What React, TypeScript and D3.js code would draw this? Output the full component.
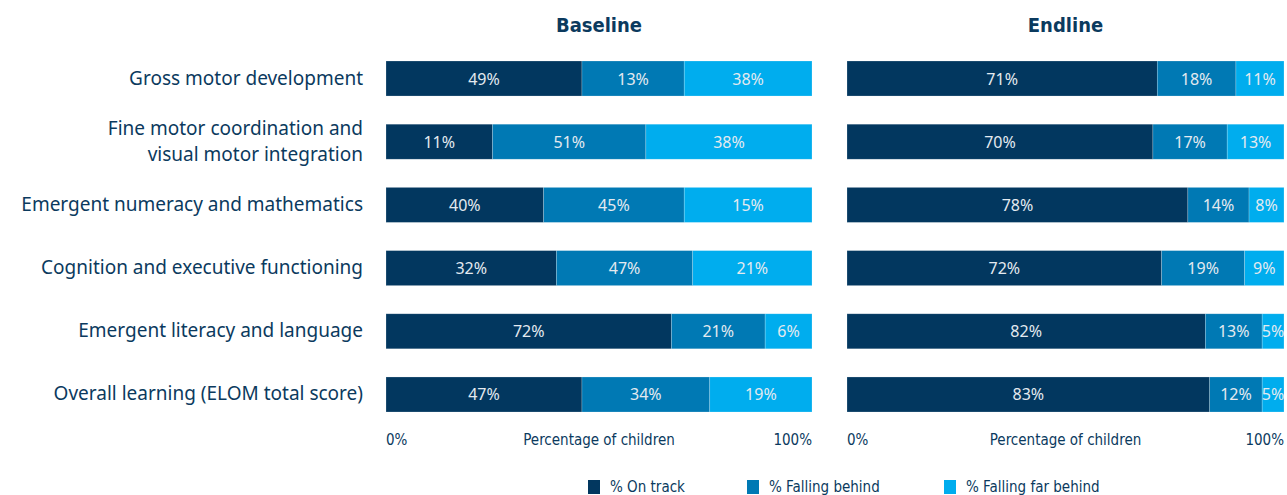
import React from "react";
import * as d3 from "d3";

const categories = [
  ["Gross motor development"],
  ["Fine motor coordination and", "visual motor integration"],
  ["Emergent numeracy and mathematics"],
  ["Cognition and executive functioning"],
  ["Emergent literacy and language"],
  ["Overall learning (ELOM total score)"],
];
const seriesNames = ["% On track", "% Falling behind", "% Falling far behind"];
const colors = ["#02375F", "#0079B4", "#00ADEE"];

// printed labels
const baselineOnTrack = [49, 11, 40, 32, 72, 47];
const baselineBehind = [13, 51, 45, 47, 21, 34];
const baselineFarBehind = [38, 38, 15, 21, 6, 19];
// segment lengths as drawn in the reference baseline panel
const baselineDrawnOnTrack = [46, 25, 37, 40, 67, 46];
const baselineDrawnBehind = [24, 36, 33, 32, 22, 30];
const baselineDrawnFarBehind = [30, 39, 30, 28, 11, 24];

const endlineOnTrack = [71, 70, 78, 72, 82, 83];
const endlineBehind = [18, 17, 14, 19, 13, 12];
const endlineFarBehind = [11, 13, 8, 9, 5, 5];

const panelTitles = ["Baseline", "Endline"];
const axisTitle = "Percentage of children";
const axisTicks = ["0%", "100%"];

const W = 1287;
const H = 495;
const textColor = "#0B3A5E";
const condensed = "'Liberation Sans Narrow', 'DejaVu Sans Condensed', sans-serif";
const labelFont = "'Noto Sans', sans-serif";

function Panel({ x0, x1, title, drawn, labels, y }) {
  const x = d3.scaleLinear().domain([0, 100]).range([x0, x1]);
  return (
    <g>
      <text x={(x0 + x1) / 2} y={32} textAnchor="middle" fontFamily={condensed} fontWeight="bold" fontSize={20} fill={textColor}>
        {title}
      </text>
      {categories.map((_, i) => {
        const vals = drawn.map((s) => s[i]);
        const total = d3.sum(vals);
        let acc = 0;
        return (
          <g key={i}>
            {vals.map((v, k) => {
              const a = x((acc / total) * 100);
              acc += v;
              const b = x((acc / total) * 100);
              return (
                <g key={k}>
                  <rect x={a} y={y(String(i))} width={b - a} height={y.bandwidth()} fill={colors[k]} stroke="#ffffff" strokeOpacity={0.35} strokeWidth={0.6} />
                  <text x={(a + b) / 2} y={y(String(i))! + y.bandwidth() / 2 + 6} textAnchor="middle" fontFamily={labelFont} fontSize={16} fill="#E4EAF0">
                    {labels[k][i]}%
                  </text>
                </g>
              );
            })}
          </g>
        );
      })}
      <text x={x0} y={445} fontFamily={condensed} fontSize={15} fill={textColor}>{axisTicks[0]}</text>
      <text x={(x0 + x1) / 2} y={445} textAnchor="middle" fontFamily={condensed} fontSize={15} fill={textColor}>{axisTitle}</text>
      <text x={x1} y={445} textAnchor="end" fontFamily={condensed} fontSize={15} fill={textColor}>{axisTicks[1]}</text>
    </g>
  );
}

export default function App() {
  const yb = d3
    .scaleBand()
    .domain(categories.map((_, i) => String(i)))
    .range([61, 412])
    .paddingInner(0.446)
    .paddingOuter(0);

  const legendX = [588, 747, 944];
  return (
    <svg width={W} height={H} style={{ position: "absolute", left: 0, top: 0, background: "#fff" }}>
      {categories.map((lines, i) => {
        const cy = yb(String(i))! + yb.bandwidth() / 2;
        const n = lines.length;
        return (
          <text key={i} textAnchor="end" fontFamily={labelFont} fontSize={19} fill={textColor}>
            {lines.map((l, j) => (
              <tspan key={j} x={363} y={cy + 6 + (j - (n - 1) / 2) * 26}>{l}</tspan>
            ))}
          </text>
        );
      })}
      <Panel x0={386} x1={812} title={panelTitles[0]} y={yb}
        drawn={[baselineDrawnOnTrack, baselineDrawnBehind, baselineDrawnFarBehind]}
        labels={[baselineOnTrack, baselineBehind, baselineFarBehind]} />
      <Panel x0={847} x1={1284} title={panelTitles[1]} y={yb}
        drawn={[endlineOnTrack, endlineBehind, endlineFarBehind]}
        labels={[endlineOnTrack, endlineBehind, endlineFarBehind]} />
      {seriesNames.map((s, k) => (
        <g key={k}>
          <rect x={legendX[k]} y={480} width={12} height={14} fill={colors[k]} />
          <text x={legendX[k] + 22} y={492} fontFamily={condensed} fontSize={15} fill={textColor}>{s}</text>
        </g>
      ))}
    </svg>
  );
}
